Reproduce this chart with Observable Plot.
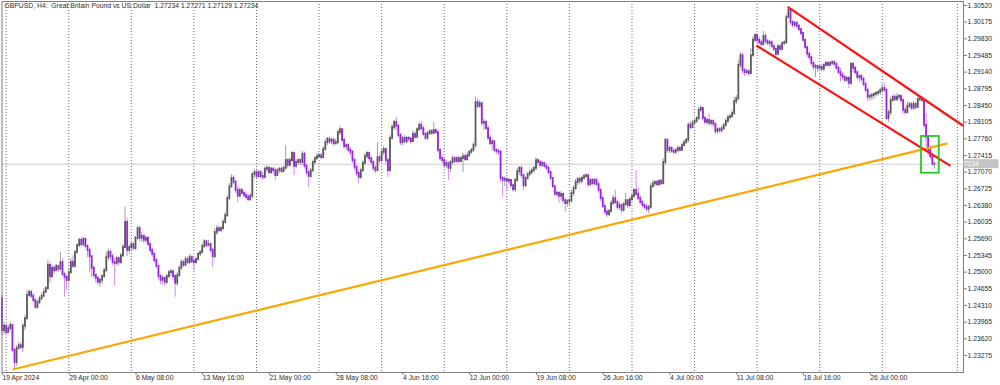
<!DOCTYPE html>
<html><head><meta charset="utf-8">
<script src="https://cdn.jsdelivr.net/npm/d3@7"></script>
<script src="https://cdn.jsdelivr.net/npm/@observablehq/plot@0.6"></script>
<style>
body{margin:0;background:#fff;}
#chart{width:1000px;height:385px;}
svg text{white-space:pre;}
</style></head><body><div id="chart"></div>
<script>
const headerText = "GBPUSD, H4:  Great Britain Pound vs US Dollar  1.27234 1.27271 1.27129 1.27234";
const firstOpen = 1.2445;
const closes = [
1.2379,1.2388,1.2375,1.2383,1.2390,1.2338,1.2313,1.2342,1.2348,1.2344,
1.2388,1.2404,1.2452,1.2458,1.2450,1.2441,1.2427,1.2437,1.2445,1.2450,
1.2458,1.2466,1.2514,1.2491,1.2508,1.2503,1.2512,1.2506,1.2520,1.2495,
1.2489,1.2483,1.2499,1.2520,1.2512,1.2541,1.2555,1.2566,1.2557,1.2568,
1.2553,1.2545,1.2532,1.2508,1.2493,1.2487,1.2479,1.2483,1.2491,1.2503,
1.2530,1.2541,1.2532,1.2520,1.2518,1.2528,1.2520,1.2534,1.2551,1.2603,
1.2545,1.2551,1.2557,1.2549,1.2570,1.2590,1.2570,1.2574,1.2566,1.2570,
1.2557,1.2545,1.2537,1.2524,1.2512,1.2491,1.2483,1.2487,1.2479,1.2491,
1.2499,1.2501,1.2491,1.2477,1.2493,1.2508,1.2520,1.2514,1.2526,1.2520,
1.2530,1.2522,1.2520,1.2526,1.2537,1.2541,1.2553,1.2563,1.2555,1.2557,
1.2545,1.2532,1.2582,1.2590,1.2586,1.2590,1.2603,1.2617,1.2652,1.2677,
1.2694,1.2686,1.2669,1.2657,1.2669,1.2663,1.2659,1.2655,1.2650,1.2657,
1.2702,1.2706,1.2698,1.2706,1.2698,1.2696,1.2713,1.2715,1.2706,1.2713,
1.2710,1.2700,1.2710,1.2713,1.2708,1.2715,1.2731,1.2721,1.2731,1.2746,
1.2719,1.2727,1.2731,1.2727,1.2744,1.2719,1.2706,1.2698,1.2710,1.2727,
1.2735,1.2739,1.2741,1.2737,1.2754,1.2768,1.2775,1.2770,1.2773,1.2766,
1.2768,1.2789,1.2795,1.2773,1.2760,1.2762,1.2752,1.2748,1.2731,1.2717,
1.2704,1.2696,1.2710,1.2725,1.2739,1.2746,1.2735,1.2727,1.2715,1.2710,
1.2737,1.2731,1.2748,1.2754,1.2731,1.2710,1.2777,1.2799,1.2810,1.2802,
1.2783,1.2768,1.2777,1.2770,1.2777,1.2775,1.2770,1.2785,1.2779,1.2795,
1.2804,1.2797,1.2785,1.2777,1.2787,1.2791,1.2787,1.2793,1.2789,1.2752,
1.2735,1.2731,1.2721,1.2725,1.2715,1.2727,1.2735,1.2729,1.2735,1.2729,
1.2735,1.2739,1.2733,1.2741,1.2748,1.2752,1.2762,1.2851,1.2843,1.2849,
1.2808,1.2810,1.2797,1.2777,1.2766,1.2770,1.2752,1.2750,1.2748,1.2694,
1.2690,1.2692,1.2688,1.2690,1.2679,1.2671,1.2690,1.2708,1.2715,1.2700,
1.2679,1.2694,1.2702,1.2706,1.2710,1.2715,1.2731,1.2727,1.2721,1.2725,
1.2719,1.2715,1.2706,1.2694,1.2677,1.2661,1.2663,1.2657,1.2661,1.2648,
1.2642,1.2646,1.2648,1.2663,1.2673,1.2686,1.2692,1.2688,1.2694,1.2698,
1.2700,1.2681,1.2690,1.2683,1.2690,1.2681,1.2669,1.2652,1.2636,1.2624,
1.2619,1.2626,1.2642,1.2652,1.2644,1.2634,1.2638,1.2628,1.2640,1.2648,
1.2638,1.2650,1.2657,1.2669,1.2661,1.2652,1.2644,1.2638,1.2634,1.2630,
1.2634,1.2677,1.2683,1.2686,1.2681,1.2688,1.2683,1.2727,1.2773,1.2752,
1.2756,1.2750,1.2748,1.2752,1.2756,1.2752,1.2762,1.2768,1.2773,1.2804,
1.2799,1.2808,1.2812,1.2818,1.2835,1.2839,1.2818,1.2810,1.2814,1.2808,
1.2812,1.2806,1.2791,1.2795,1.2793,1.2797,1.2804,1.2812,1.2820,1.2822,
1.2828,1.2853,1.2859,1.2928,1.2948,1.2917,1.2913,1.2915,1.2911,1.2948,
1.2980,1.2990,1.2980,1.2975,1.2971,1.2988,1.2977,1.2973,1.2975,1.2967,
1.2961,1.2951,1.2967,1.2961,1.2973,1.2975,1.3027,1.3042,1.3017,1.3011,
1.3015,1.3009,1.3002,1.2994,1.2980,1.2965,1.2951,1.2944,1.2932,1.2924,
1.2926,1.2922,1.2924,1.2920,1.2928,1.2932,1.2928,1.2932,1.2934,1.2930,
1.2922,1.2913,1.2907,1.2903,1.2897,1.2901,1.2891,1.2930,1.2922,1.2913,
1.2903,1.2905,1.2899,1.2888,1.2876,1.2862,1.2864,1.2866,1.2868,1.2870,
1.2872,1.2876,1.2880,1.2876,1.2818,1.2830,1.2855,1.2862,1.2857,1.2862,
1.2864,1.2855,1.2835,1.2830,1.2843,1.2847,1.2839,1.2847,1.2841,1.2857,
1.2859,1.2855,1.2804,1.2779,1.2752,1.2739,1.27234,1.27234];
const highs = [
1.2452,1.2396,1.2392,1.2390,1.2396,1.2388,1.2342,1.2348,1.2354,1.2354,
1.2394,1.2410,1.2462,1.2464,1.2462,1.2456,1.2445,1.2441,1.2450,1.2456,
1.2466,1.2470,1.2524,1.2520,1.2514,1.2512,1.2516,1.2514,1.2541,1.2528,
1.2499,1.2493,1.2508,1.2528,1.2534,1.2545,1.2559,1.2570,1.2570,1.2572,
1.2566,1.2557,1.2549,1.2534,1.2512,1.2495,1.2491,1.2487,1.2495,1.2508,
1.2541,1.2547,1.2545,1.2537,1.2528,1.2532,1.2532,1.2539,1.2557,1.2634,
1.2611,1.2555,1.2561,1.2561,1.2574,1.2595,1.2595,1.2582,1.2578,1.2574,
1.2574,1.2561,1.2549,1.2541,1.2528,1.2514,1.2495,1.2493,1.2491,1.2495,
1.2503,1.2506,1.2503,1.2495,1.2499,1.2514,1.2526,1.2524,1.2532,1.2532,
1.2537,1.2534,1.2528,1.2530,1.2541,1.2545,1.2559,1.2568,1.2566,1.2566,
1.2561,1.2549,1.2590,1.2597,1.2595,1.2595,1.2609,1.2624,1.2659,1.2683,
1.2702,1.2700,1.2690,1.2677,1.2675,1.2673,1.2669,1.2665,1.2661,1.2663,
1.2706,1.2713,1.2710,1.2710,1.2710,1.2706,1.2719,1.2721,1.2719,1.2717,
1.2717,1.2715,1.2715,1.2717,1.2717,1.2719,1.2762,1.2735,1.2737,1.2750,
1.2748,1.2733,1.2735,1.2735,1.2750,1.2748,1.2723,1.2710,1.2715,1.2731,
1.2739,1.2746,1.2746,1.2746,1.2760,1.2775,1.2779,1.2779,1.2777,1.2777,
1.2775,1.2795,1.2802,1.2797,1.2777,1.2766,1.2766,1.2758,1.2752,1.2735,
1.2721,1.2710,1.2715,1.2731,1.2746,1.2750,1.2748,1.2739,1.2731,1.2721,
1.2768,1.2741,1.2756,1.2760,1.2756,1.2735,1.2783,1.2806,1.2814,1.2820,
1.2806,1.2787,1.2781,1.2783,1.2781,1.2781,1.2779,1.2793,1.2791,1.2799,
1.2810,1.2812,1.2802,1.2789,1.2791,1.2795,1.2795,1.2810,1.2797,1.2793,
1.2756,1.2741,1.2735,1.2731,1.2727,1.2731,1.2741,1.2739,1.2739,1.2739,
1.2739,1.2746,1.2744,1.2748,1.2752,1.2756,1.2768,1.2862,1.2859,1.2855,
1.2849,1.2818,1.2814,1.2802,1.2783,1.2775,1.2768,1.2756,1.2754,1.2752,
1.2698,1.2698,1.2696,1.2694,1.2692,1.2683,1.2694,1.2715,1.2719,1.2719,
1.2702,1.2698,1.2706,1.2713,1.2715,1.2719,1.2737,1.2735,1.2731,1.2729,
1.2727,1.2723,1.2719,1.2710,1.2696,1.2679,1.2669,1.2667,1.2667,1.2663,
1.2652,1.2650,1.2652,1.2669,1.2679,1.2692,1.2696,1.2696,1.2698,1.2702,
1.2704,1.2702,1.2694,1.2694,1.2694,1.2694,1.2686,1.2673,1.2657,1.2640,
1.2630,1.2630,1.2648,1.2659,1.2669,1.2648,1.2644,1.2640,1.2644,1.2663,
1.2650,1.2655,1.2661,1.2673,1.2710,1.2675,1.2657,1.2648,1.2642,1.2640,
1.2638,1.2683,1.2690,1.2690,1.2690,1.2692,1.2692,1.2735,1.2777,1.2773,
1.2760,1.2760,1.2756,1.2756,1.2762,1.2760,1.2768,1.2773,1.2777,1.2810,
1.2812,1.2814,1.2818,1.2822,1.2841,1.2845,1.2841,1.2822,1.2818,1.2828,
1.2816,1.2816,1.2808,1.2799,1.2799,1.2802,1.2808,1.2818,1.2826,1.2826,
1.2835,1.2862,1.2866,1.2938,1.2955,1.2953,1.2922,1.2920,1.2920,1.2963,
1.2988,1.2994,1.2992,1.2986,1.2980,1.2998,1.2994,1.2982,1.2980,1.2980,
1.2971,1.2965,1.2971,1.2971,1.2977,1.2980,1.3033,1.3048,1.3044,1.3021,
1.3019,1.3019,1.3013,1.3004,1.2996,1.2982,1.2967,1.2955,1.2948,1.2936,
1.2930,1.2928,1.2928,1.2930,1.2932,1.2936,1.2936,1.2936,1.2938,1.2938,
1.2934,1.2926,1.2922,1.2913,1.2907,1.2905,1.2905,1.2934,1.2936,1.2926,
1.2917,1.2909,1.2909,1.2903,1.2893,1.2880,1.2868,1.2870,1.2872,1.2874,
1.2876,1.2880,1.2888,1.2891,1.2880,1.2835,1.2862,1.2866,1.2868,1.2870,
1.2868,1.2866,1.2859,1.2841,1.2853,1.2851,1.2851,1.2853,1.2851,1.2862,
1.2864,1.2864,1.2857,1.2828,1.2783,1.2756,1.2744,1.27271];
const lows = [
1.2369,1.2371,1.2369,1.2373,1.2377,1.2334,1.2301,1.2305,1.2338,1.2340,
1.2334,1.2379,1.2400,1.2448,1.2445,1.2437,1.2423,1.2423,1.2433,1.2441,
1.2448,1.2458,1.2462,1.2477,1.2487,1.2495,1.2501,1.2499,1.2503,1.2491,
1.2448,1.2462,1.2479,1.2495,1.2508,1.2508,1.2537,1.2551,1.2551,1.2553,
1.2549,1.2530,1.2499,1.2489,1.2487,1.2477,1.2472,1.2468,1.2474,1.2487,
1.2499,1.2524,1.2524,1.2514,1.2472,1.2512,1.2512,1.2516,1.2530,1.2549,
1.2532,1.2537,1.2545,1.2545,1.2545,1.2566,1.2563,1.2561,1.2559,1.2559,
1.2553,1.2539,1.2530,1.2518,1.2508,1.2483,1.2474,1.2472,1.2470,1.2474,
1.2487,1.2491,1.2483,1.2448,1.2470,1.2489,1.2503,1.2510,1.2512,1.2516,
1.2516,1.2518,1.2503,1.2516,1.2522,1.2532,1.2537,1.2549,1.2551,1.2553,
1.2539,1.2510,1.2528,1.2576,1.2582,1.2582,1.2586,1.2599,1.2613,1.2648,
1.2673,1.2681,1.2663,1.2644,1.2655,1.2659,1.2652,1.2650,1.2646,1.2646,
1.2652,1.2694,1.2694,1.2694,1.2694,1.2690,1.2694,1.2706,1.2702,1.2702,
1.2704,1.2690,1.2698,1.2704,1.2704,1.2706,1.2710,1.2715,1.2719,1.2727,
1.2700,1.2715,1.2721,1.2721,1.2721,1.2713,1.2700,1.2675,1.2694,1.2706,
1.2721,1.2731,1.2735,1.2733,1.2735,1.2750,1.2762,1.2764,1.2764,1.2760,
1.2762,1.2764,1.2783,1.2768,1.2754,1.2752,1.2748,1.2741,1.2725,1.2710,
1.2698,1.2683,1.2692,1.2706,1.2721,1.2733,1.2729,1.2721,1.2708,1.2704,
1.2708,1.2725,1.2727,1.2741,1.2723,1.2696,1.2706,1.2773,1.2793,1.2793,
1.2777,1.2762,1.2762,1.2766,1.2766,1.2768,1.2764,1.2768,1.2775,1.2777,
1.2791,1.2793,1.2781,1.2773,1.2773,1.2783,1.2783,1.2785,1.2785,1.2746,
1.2731,1.2725,1.2715,1.2715,1.2690,1.2706,1.2721,1.2725,1.2725,1.2725,
1.2727,1.2706,1.2729,1.2729,1.2737,1.2744,1.2748,1.2756,1.2839,1.2839,
1.2802,1.2793,1.2793,1.2773,1.2762,1.2752,1.2748,1.2744,1.2741,1.2686,
1.2655,1.2677,1.2669,1.2681,1.2673,1.2665,1.2665,1.2686,1.2700,1.2694,
1.2669,1.2675,1.2690,1.2698,1.2702,1.2706,1.2710,1.2721,1.2717,1.2717,
1.2715,1.2710,1.2702,1.2690,1.2673,1.2657,1.2655,1.2642,1.2648,1.2642,
1.2624,1.2634,1.2638,1.2642,1.2657,1.2669,1.2679,1.2681,1.2683,1.2690,
1.2694,1.2675,1.2677,1.2679,1.2679,1.2677,1.2663,1.2646,1.2632,1.2619,
1.2613,1.2615,1.2621,1.2638,1.2640,1.2628,1.2628,1.2621,1.2624,1.2636,
1.2632,1.2634,1.2646,1.2652,1.2657,1.2648,1.2640,1.2634,1.2630,1.2624,
1.2621,1.2630,1.2673,1.2677,1.2677,1.2677,1.2679,1.2681,1.2721,1.2746,
1.2746,1.2746,1.2744,1.2744,1.2748,1.2748,1.2750,1.2760,1.2764,1.2768,
1.2795,1.2797,1.2804,1.2808,1.2814,1.2830,1.2812,1.2806,1.2804,1.2802,
1.2802,1.2799,1.2785,1.2785,1.2787,1.2787,1.2793,1.2799,1.2808,1.2814,
1.2818,1.2824,1.2847,1.2855,1.2922,1.2911,1.2905,1.2907,1.2905,1.2909,
1.2944,1.2975,1.2973,1.2971,1.2967,1.2969,1.2973,1.2969,1.2967,1.2963,
1.2957,1.2946,1.2948,1.2957,1.2959,1.2969,1.2971,1.3025,1.3011,1.3006,
1.3006,1.3004,1.2998,1.2990,1.2975,1.2961,1.2944,1.2938,1.2926,1.2917,
1.2903,1.2913,1.2915,1.2915,1.2915,1.2924,1.2924,1.2926,1.2928,1.2926,
1.2917,1.2909,1.2893,1.2897,1.2893,1.2891,1.2880,1.2886,1.2913,1.2909,
1.2897,1.2893,1.2893,1.2884,1.2872,1.2853,1.2855,1.2855,1.2857,1.2862,
1.2864,1.2866,1.2870,1.2872,1.2814,1.2810,1.2824,1.2851,1.2853,1.2853,
1.2855,1.2851,1.2828,1.2826,1.2828,1.2839,1.2835,1.2835,1.2835,1.2839,
1.2853,1.2851,1.2797,1.2758,1.2741,1.2733,1.2719,1.27129];

const timeTickBars = [0,32,64,96,128,160,192,224,256,288,320,352,384,416];
const timeTickLabels = ["19 Apr 2024","29 Apr 00:00","6 May 08:00","13 May 16:00","21 May 00:00","28 May 08:00","4 Jun 16:00","12 Jun 00:00","19 Jun 08:00","26 Jun 16:00","4 Jul 00:00","11 Jul 08:00","18 Jul 16:00","26 Jul 00:00"];
const gridBars = [2,32,62,92,122,152,182,212,242,272,302,332,362,392,422,458];
const priceTicks = [1.23275,1.23620,1.23965,1.24310,1.24655,1.25000,1.25345,1.25690,1.26035,1.26380,1.26725,1.27070,1.27415,1.27760,1.28105,1.28450,1.28795,1.29140,1.29485,1.29830,1.30175,1.30520];
const lastPrice = 1.27234;
const supportLine = [{bar:5.5, price:1.2299},{bar:452.8, price:1.2766}];
const channelUpper = [{bar:377.0, price:1.3048},{bar:460.4, price:1.2804}];
const channelLower = [{bar:362.0, price:1.2968},{bar:454.3, price:1.2721}];
const breakBox = [{bar1:440.8, bar2:449.3, price1:1.27048, price2:1.27808}];

const candles = closes.map((c, i) => {
  const o = i === 0 ? firstOpen : closes[i-1];
  return {i, open:o, close:c, high:Math.max(highs[i], o, c), low:Math.min(lows[i], o, c), bull: c >= o};
});

const FONT = "Liberation Sans, Arial, sans-serif";
const plot = Plot.plot({
  width:1000, height:385,
  marginLeft:1.5, marginRight:37, marginTop:1, marginBottom:13,
  style:{fontFamily:FONT, fontSize:"6.8px", background:"#fff", color:"#2a2a2a"},
  x:{domain:[0,460.93], axis:null},
  y:{domain:[1.22923,1.30602], axis:null},
  marks:[
    Plot.ruleX(gridBars, {x:d=>d, stroke:"#6a6a6a", strokeDasharray:"1,2", strokeWidth:1}),
    Plot.ruleY([lastPrice], {y:d=>d, stroke:"#cfcfcf", strokeWidth:1}),
    Plot.ruleX(candles, {x:"i", y1:"low", y2:"high", stroke:d=>d.bull?"#a0a0a0":"#cc8ded", strokeWidth:1}),
    Plot.ruleX(candles, {x:"i", y1:"open", y2:"close", stroke:d=>d.bull?"#5a5a5a":"#9a22e2", strokeWidth:1.8, strokeLinecap:"square"}),
    Plot.line(supportLine, {x:"bar", y:"price", stroke:"#ffa500", strokeWidth:2.2}),
    Plot.line(channelUpper, {x:"bar", y:"price", stroke:"#ff1010", strokeWidth:2.2}),
    Plot.line(channelLower, {x:"bar", y:"price", stroke:"#ff1010", strokeWidth:2.2}),
    Plot.rect(breakBox, {x1:"bar1", x2:"bar2", y1:"price1", y2:"price2", fill:"none", stroke:"#28c828", strokeWidth:1.8}),
    Plot.frame({stroke:"#7f7f7f", strokeWidth:1}),
    Plot.axisY(priceTicks, {anchor:"right", tickSize:3, tickPadding:1, tickFormat:d=>d.toFixed(5), fontSize:6.8, fill:"#2a2a2a", stroke:"#7f7f7f"}),
    Plot.axisX(timeTickBars, {anchor:"bottom", tickSize:3, tickPadding:0, textAnchor:"start", tickFormat:d=>timeTickLabels[timeTickBars.indexOf(d)], fontSize:6.8, fill:"#2a2a2a", stroke:"#7f7f7f", dx:0.5}),
    Plot.text([headerText], {frameAnchor:"top-left", text:d=>d, dx:2.5, dy:2, textAnchor:"start", lineAnchor:"top", fontSize:6.8, fill:"#2a2a2a"})
  ]
});
document.getElementById("chart").appendChild(plot);

// current price marker on the price scale
const yp = plot.scale("y").apply(lastPrice);
const svg = d3.select(plot);
svg.append("rect").attr("x",963.5).attr("y",yp-4.5).attr("width",35).attr("height",9).attr("fill","#c4c4c4");
svg.append("text").attr("x",966.5).attr("y",yp).attr("dy","0.35em").attr("font-size",6.8).attr("font-family",FONT).attr("fill","#ffffff").text(lastPrice.toFixed(5));
</script>
</body></html>
